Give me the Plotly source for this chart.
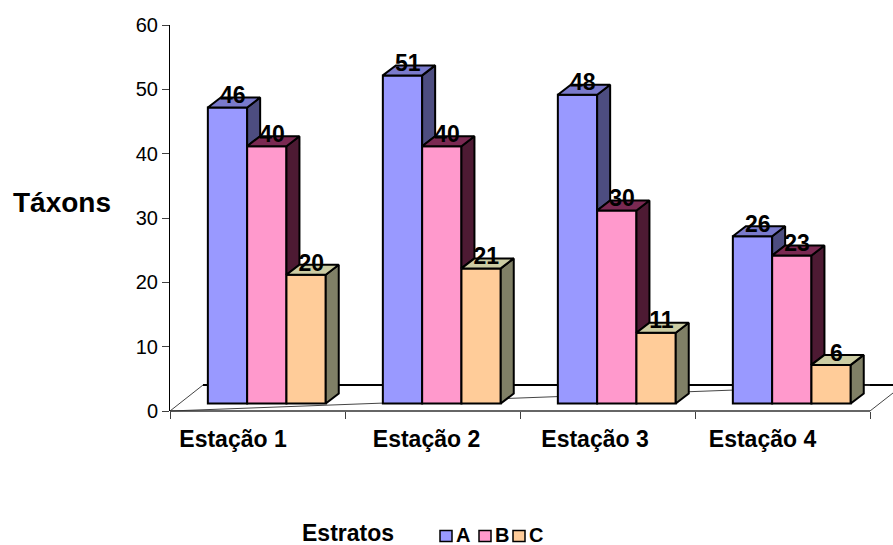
import plotly.graph_objects as go

# ---- data -------------------------------------------------------------
stations = ["Estação 1", "Estação 2", "Estação 3", "Estação 4"]
strata = ["A", "B", "C"]
taxa_A = [46, 51, 48, 26]
taxa_B = [40, 40, 30, 23]
taxa_C = [20, 21, 11, 6]
y_ticks = [0, 10, 20, 30, 40, 50, 60]

# ---- styling ----------------------------------------------------------
front_colors = ["#9999FF", "#FF99CC", "#FFCC99"]
top_colors = ["#7A7ACC", "#7A2952", "#CCCCA3"]
side_colors = ["#4D4D80", "#4D1A33", "#808066"]
FONT = "Liberation Sans, Arial, sans-serif"

W, H = 893, 545
ML, MR, MT, MB = 170, 0, 25, 134
CAT_PX = 175                      # pixels per station slot
plot_w = W - ML - MR
plot_h = H - MT - MB
x_lo = 0.5
x_hi = x_lo + plot_w / CAT_PX
unit_px = plot_h / 60.0

bar_w = 39.3 / CAT_PX             # width of one bar front
group_shift = 9.3 / CAT_PX        # bar group sits a little right of slot centre
dx = 13.0 / CAT_PX                # 3-D depth, horizontal
dy = 10.0 / unit_px               # 3-D depth, vertical
lift = 7.5 / unit_px              # bar floor sits above the axis baseline
label_shift_px = [-24.5, -6, -12.5, -20]   # station labels follow the tilted floor


def paper_x(px):
    return (px - ML) / plot_w


def paper_y(py):
    return (H - MB - py) / plot_h


series = [taxa_A, taxa_B, taxa_C]
centres = [i + 1 for i in range(len(stations))]

fig = go.Figure()

# anchor trace so the value axis is rendered
fig.add_trace(go.Scatter(x=[None], y=[None], mode="markers", showlegend=False,
                         hoverinfo="skip"))

# bar fronts
bar_x = []
for k, vals in enumerate(series):
    xs = [c + group_shift + (k - 1) * bar_w for c in centres]
    bar_x.append(xs)
    fig.add_trace(go.Bar(
        x=xs, y=vals, base=0, width=bar_w, yaxis="y2", name=strata[k],
        marker=dict(color=front_colors[k], line=dict(color="black", width=2)),
        hoverinfo="skip",
    ))

# top and side faces, drawn series by series so later bars hide earlier sides
for k, vals in enumerate(series):
    top_x, top_y, side_x, side_y = [], [], [], []
    for i, v in enumerate(vals):
        xl = bar_x[k][i] - bar_w / 2
        xr = bar_x[k][i] + bar_w / 2
        top_x += [xl, xr, xr + dx, xl + dx, xl, None]
        top_y += [v, v, v + dy, v + dy, v, None]
        b = min(v, series[k + 1][i]) if k + 1 < len(series) else 0
        side_x += [xr, xr, xr + dx, xr + dx, xr, None]
        side_y += [b, v, v + dy, b + dy, b, None]
    fig.add_trace(go.Scatter(
        x=side_x, y=side_y, yaxis="y2", mode="lines", fill="toself",
        fillcolor=side_colors[k], line=dict(color="black", width=2),
        hoverinfo="skip", showlegend=False,
    ))
    fig.add_trace(go.Scatter(
        x=top_x, y=top_y, yaxis="y2", mode="lines", fill="toself",
        fillcolor=top_colors[k], line=dict(color="black", width=2),
        hoverinfo="skip", showlegend=False,
    ))

# value labels on top of each bar
for k, vals in enumerate(series):
    fig.add_trace(go.Scatter(
        x=[x + dx * 0.4 for x in bar_x[k]], y=[v + dy for v in vals],
        yaxis="y2", mode="text", text=[str(v) for v in vals],
        textposition="middle center",
        textfont=dict(family=FONT, size=23, color="black", weight="bold"),
        hoverinfo="skip", showlegend=False, cliponaxis=False,
    ))

# floor of the 3-D plot area
line_dark = dict(color="black", width=2)
line_thin = dict(color="#444444", width=1)
shapes = [
    dict(type="line", xref="paper", yref="paper", layer="below",
         x0=paper_x(170), y0=paper_y(411), x1=paper_x(203), y1=paper_y(385), line=line_thin),
    dict(type="line", xref="paper", yref="paper", layer="below",
         x0=paper_x(203), y0=paper_y(385), x1=paper_x(893), y1=paper_y(385), line=line_dark),
    dict(type="line", xref="paper", yref="paper", layer="below",
         x0=paper_x(170), y0=paper_y(411), x1=paper_x(870), y1=paper_y(385), line=line_thin),
    dict(type="line", xref="paper", yref="paper", layer="below",
         x0=paper_x(170), y0=paper_y(411), x1=paper_x(870), y1=paper_y(411),
         line=dict(color="#333333", width=1.5)),
    dict(type="line", xref="paper", yref="paper", layer="below",
         x0=paper_x(870), y0=paper_y(411), x1=paper_x(893), y1=paper_y(393), line=line_thin),
]

# legend: title plus coloured keys
annotations = [
    dict(text="Táxons", xref="paper", yref="paper", x=paper_x(62), y=paper_y(202),
         xanchor="center", yanchor="middle", showarrow=False,
         font=dict(family=FONT, size=28, color="black", weight="bold")),
    dict(text="Estratos", xref="paper", yref="paper", x=paper_x(300), y=paper_y(533),
         xanchor="left", yanchor="middle", showarrow=False,
         font=dict(family=FONT, size=23, color="black", weight="bold")),
]
key_left = [440, 479, 513]
for k, name in enumerate(strata):
    x0 = key_left[k]
    shapes.append(dict(type="rect", xref="paper", yref="paper",
                       x0=paper_x(x0), x1=paper_x(x0 + 12), y0=paper_y(541.5), y1=paper_y(530.5),
                       fillcolor=front_colors[k], line=dict(color="black", width=1.5)))
    annotations.append(dict(text=name, xref="paper", yref="paper", x=paper_x(x0 + 13.5),
                            y=paper_y(534.5), xanchor="left", yanchor="middle", showarrow=False,
                            font=dict(family=FONT, size=20, color="black", weight="bold")))

fig.update_layout(
    width=W, height=H,
    margin=dict(l=ML, r=MR, t=MT, b=MB, pad=0),
    paper_bgcolor="white", plot_bgcolor="white",
    barmode="overlay", showlegend=False,
    font=dict(family=FONT, color="black"),
    xaxis=dict(
        range=[x_lo, x_hi], showgrid=False, zeroline=False, showline=False,
        tickmode="array",
        tickvals=[c + s / CAT_PX for c, s in zip(centres, label_shift_px)],
        ticktext=stations,
        ticks="", ticklabelstandoff=12,
        tickfont=dict(family=FONT, size=23, color="black", weight="bold"),
        minor=dict(tickmode="array", tickvals=[c - 0.5 for c in centres] + [centres[-1] + 0.5],
                   ticks="outside", ticklen=7, tickwidth=1, tickcolor="#404040"),
    ),
    yaxis=dict(
        range=[0, 60], tickmode="array", tickvals=y_ticks,
        showgrid=False, zeroline=False, showline=True, linecolor="black", linewidth=1,
        ticks="outside", ticklen=7, tickwidth=1, tickcolor="#404040",
        tickfont=dict(family=FONT, size=20, color="black"),
    ),
    yaxis2=dict(range=[-lift, 60 - lift], overlaying="y", visible=False),
    shapes=shapes,
    annotations=annotations,
)

fig.write_html("out.html")
